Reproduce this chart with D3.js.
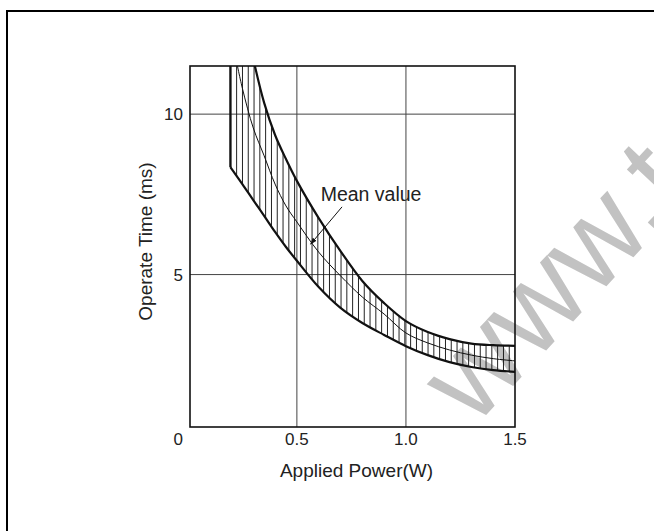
<!DOCTYPE html>
<html>
<head>
<meta charset="utf-8">
<script src="https://cdn.jsdelivr.net/npm/d3@7"></script>
<style>
  html, body { margin: 0; padding: 0; background: #fff; }
  svg { display: block; font-family: "Liberation Sans", Arial, sans-serif; }
</style>
</head>
<body>
<svg id="chart" width="654" height="531"></svg>
<script>
// Operate time band versus applied coil power
const lowerPower = [0.195, 0.25, 0.30, 0.35, 0.40, 0.45, 0.50, 0.60, 0.70, 0.80, 0.90, 1.00, 1.10, 1.20, 1.30, 1.40, 1.50];
const lowerTime  = [8.35, 7.82, 7.32, 6.83, 6.33, 5.86, 5.43, 4.61, 3.96, 3.49, 3.12, 2.77, 2.49, 2.27, 2.12, 2.02, 1.97];

const upperPower = [0.30, 0.35, 0.40, 0.45, 0.50, 0.60, 0.70, 0.80, 0.90, 1.00, 1.10, 1.20, 1.30, 1.40, 1.50];
const upperTime  = [11.72, 10.35, 9.35, 8.60, 7.92, 6.76, 5.73, 4.80, 4.11, 3.55, 3.21, 2.99, 2.85, 2.80, 2.78];

const meanPower = [0.22, 0.25, 0.30, 0.35, 0.40, 0.45, 0.50, 0.60, 0.70, 0.80, 0.90, 1.00, 1.10, 1.20, 1.30, 1.40, 1.50];
const meanTime  = [11.75, 10.81, 9.57, 8.70, 7.82, 7.14, 6.64, 5.70, 4.96, 4.30, 3.77, 3.18, 2.87, 2.65, 2.49, 2.38, 2.31];

const xTickValues = [0.5, 1.0, 1.5];
const xTickLabels = ["0.5", "1.0", "1.5"];
const yTickValues = [5, 10];
const yTickLabels = ["5", "10"];
const originLabel = "0";

const xTitle = "Applied Power(W)";
const yTitle = "Operate Time (ms)";
const meanLabel = "Mean value";
const meanLabelAt = [0.609, 7.29];     // label anchor (power, time)
const meanArrowFrom = [0.707, 7.11];
const meanArrowTo = [0.563, 5.95];
const watermarkText = "www.t";

const svg = d3.select("#chart");

const x = d3.scaleLinear().domain([0.01, 1.5]).range([190, 515]);
const y = d3.scaleLinear().domain([0.25, 11.5]).range([427, 66]);
const [x0, x1] = x.range();
const [y0, y1] = y.range();

// outer frame (continues past the right and bottom edges)
svg.append("rect")
  .attr("x", 7).attr("y", 11)
  .attr("width", 700).attr("height", 600)
  .attr("fill", "none").attr("stroke", "#000").attr("stroke-width", 2);

// watermark
svg.append("text")
  .attr("transform", "translate(474,428) rotate(-47)")
  .attr("font-size", 122)
  .attr("fill", "#c2c2c2")
  .text(watermarkText);

const defs = svg.append("defs");
defs.append("clipPath").attr("id", "plotClip")
  .append("rect")
  .attr("x", x0).attr("y", y1)
  .attr("width", x1 - x0).attr("height", y0 - y1);

const hatch = defs.append("pattern")
  .attr("id", "hatch")
  .attr("patternUnits", "userSpaceOnUse")
  .attr("x", x(lowerPower[0]))
  .attr("y", 0)
  .attr("width", 5.8)
  .attr("height", 10);
hatch.append("line")
  .attr("x1", 0.5).attr("x2", 0.5)
  .attr("y1", 0).attr("y2", 10)
  .attr("stroke", "#1a1a1a").attr("stroke-width", 1)
  .attr("shape-rendering", "crispEdges");

defs.append("marker")
  .attr("id", "arrowHead")
  .attr("viewBox", "0 0 10 10")
  .attr("refX", 9).attr("refY", 5)
  .attr("markerWidth", 7).attr("markerHeight", 7)
  .attr("markerUnits", "userSpaceOnUse")
  .attr("orient", "auto")
  .append("path")
  .attr("d", "M0,1.5 L10,5 L0,8.5 Z")
  .attr("fill", "#111");

// grid
const grid = svg.append("g");
grid.selectAll(".gx").data(xTickValues.slice(0, -1)).join("line")
  .attr("x1", d => x(d)).attr("x2", d => x(d))
  .attr("y1", y0).attr("y2", y1)
  .attr("stroke", "#444").attr("stroke-width", 1);
grid.selectAll(".gy").data(yTickValues).join("line")
  .attr("x1", x0).attr("x2", x1)
  .attr("y1", d => y(d)).attr("y2", d => y(d))
  .attr("stroke", "#444").attr("stroke-width", 1);

const pts = (px, py) => px.map((p, i) => [x(p), y(py[i])]);
const line = d3.line().curve(d3.curveCatmullRom.alpha(0.5));

const lowerPts = pts(lowerPower, lowerTime);
const upperPts = pts(upperPower, upperTime);
const meanPts = pts(meanPower, meanTime);

const plot = svg.append("g").attr("clip-path", "url(#plotClip)");

// hatched band between lower and upper limits
const topY = y1 - 20;
const bandPath =
  `M${lowerPts[0][0]},${topY}` +
  line(lowerPts).replace(/^M/, "L") +
  line(upperPts.slice().reverse()).replace(/^M/, "L") +
  `L${upperPts[0][0]},${topY}Z`;
plot.append("path")
  .attr("d", bandPath)
  .attr("fill", "url(#hatch)")
  .attr("stroke", "none");

// limit curves
plot.append("path").attr("d", line(lowerPts))
  .attr("fill", "none").attr("stroke", "#111").attr("stroke-width", 2.2);
plot.append("path").attr("d", line(upperPts))
  .attr("fill", "none").attr("stroke", "#111").attr("stroke-width", 2.2);
plot.append("line")
  .attr("x1", lowerPts[0][0]).attr("x2", lowerPts[0][0])
  .attr("y1", topY).attr("y2", lowerPts[0][1])
  .attr("stroke", "#111").attr("stroke-width", 2.2);

// mean curve
plot.append("path").attr("d", line(meanPts))
  .attr("fill", "none").attr("stroke", "#111").attr("stroke-width", 1);

// plot border
svg.append("rect")
  .attr("x", x0).attr("y", y1)
  .attr("width", x1 - x0).attr("height", y0 - y1)
  .attr("fill", "none").attr("stroke", "#111").attr("stroke-width", 1.6);

// tick labels
const tickFont = 17;
svg.selectAll(".xl").data(xTickValues).join("text")
  .attr("x", d => x(d)).attr("y", y0 + 18)
  .attr("text-anchor", "middle")
  .attr("font-size", tickFont).attr("fill", "#222")
  .text((d, i) => xTickLabels[i]);
svg.selectAll(".yl").data(yTickValues).join("text")
  .attr("x", x0 - 7).attr("y", d => y(d))
  .attr("dy", "0.36em")
  .attr("text-anchor", "end")
  .attr("font-size", tickFont).attr("fill", "#222")
  .text((d, i) => yTickLabels[i]);
svg.append("text")
  .attr("x", x0 - 7).attr("y", y0 + 18)
  .attr("text-anchor", "end")
  .attr("font-size", tickFont).attr("fill", "#222")
  .text(originLabel);

// axis titles
svg.append("text")
  .attr("x", (x0 + x1) / 2 + 4).attr("y", 477)
  .attr("text-anchor", "middle")
  .attr("font-size", 19).attr("fill", "#222")
  .text(xTitle);
svg.append("text")
  .attr("transform", `translate(152,${(y0 + y1) / 2 - 5}) rotate(-90)`)
  .attr("text-anchor", "middle")
  .attr("font-size", 19).attr("fill", "#222")
  .text(yTitle);

// mean value annotation
svg.append("text")
  .attr("x", x(meanLabelAt[0])).attr("y", y(meanLabelAt[1]))
  .attr("font-size", 19.5).attr("fill", "#222")
  .text(meanLabel);
svg.append("line")
  .attr("x1", x(meanArrowFrom[0])).attr("y1", y(meanArrowFrom[1]))
  .attr("x2", x(meanArrowTo[0])).attr("y2", y(meanArrowTo[1]))
  .attr("stroke", "#111").attr("stroke-width", 1)
  .attr("marker-end", "url(#arrowHead)");
</script>
</body>
</html>
